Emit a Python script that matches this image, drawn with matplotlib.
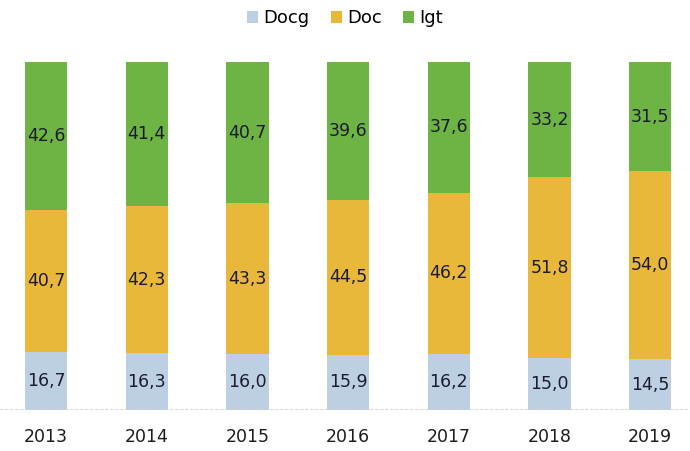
import matplotlib
matplotlib.use("Agg")
import matplotlib.pyplot as plt
import numpy as np

years = ["2013", "2014", "2015", "2016", "2017", "2018", "2019"]
docg = [16.7, 16.3, 16.0, 15.9, 16.2, 15.0, 14.5]
doc = [40.7, 42.3, 43.3, 44.5, 46.2, 51.8, 54.0]
igt = [42.6, 41.4, 40.7, 39.6, 37.6, 33.2, 31.5]

series = [("Docg", docg, "#bccfe3"), ("Doc", doc, "#e9b83a"), ("Igt", igt, "#6db445")]

plt.rcParams['font.family'] = ['DejaVu Sans']
fig = plt.figure(figsize=(6.9, 4.51), dpi=100)
ax = fig.add_axes([0.0, 0.091, 1.0, 0.772])

x = np.arange(len(years))
bottom = np.zeros(len(years))
handles = []
for name, vals, color in series:
    vals = np.array(vals)
    b = ax.bar(x, vals, width=0.42, bottom=bottom, color=color, label=name, linewidth=0)
    handles.append(b)
    for xi, v, bt in zip(x, vals, bottom):
        ax.text(xi, bt + v / 2, f"{v:.1f}".replace(".", ","), ha="center", va="center",
                fontsize=12.5, color="#1c1c30")
    bottom += vals

ax.set_xlim(-0.457, 6.395)
ax.set_ylim(0, 100)
ax.axhline(0, color="#cfcfcf", linewidth=1.2, linestyle=(0, (2, 1)))
for s in ax.spines.values():
    s.set_visible(False)
ax.set_yticks([])
ax.set_xticks(x)
ax.set_xticklabels(years, fontsize=12.5, color="#1c1c1c")
ax.tick_params(axis="x", length=0, pad=13)

fig.legend(handles=handles, loc="upper center", bbox_to_anchor=(0.5, 1.015), ncol=3,
           frameon=False, fontsize=13, handlelength=0.6, handleheight=0.6,
           handletextpad=0.3, columnspacing=1.2)

fig.savefig("out.png", dpi=100)
